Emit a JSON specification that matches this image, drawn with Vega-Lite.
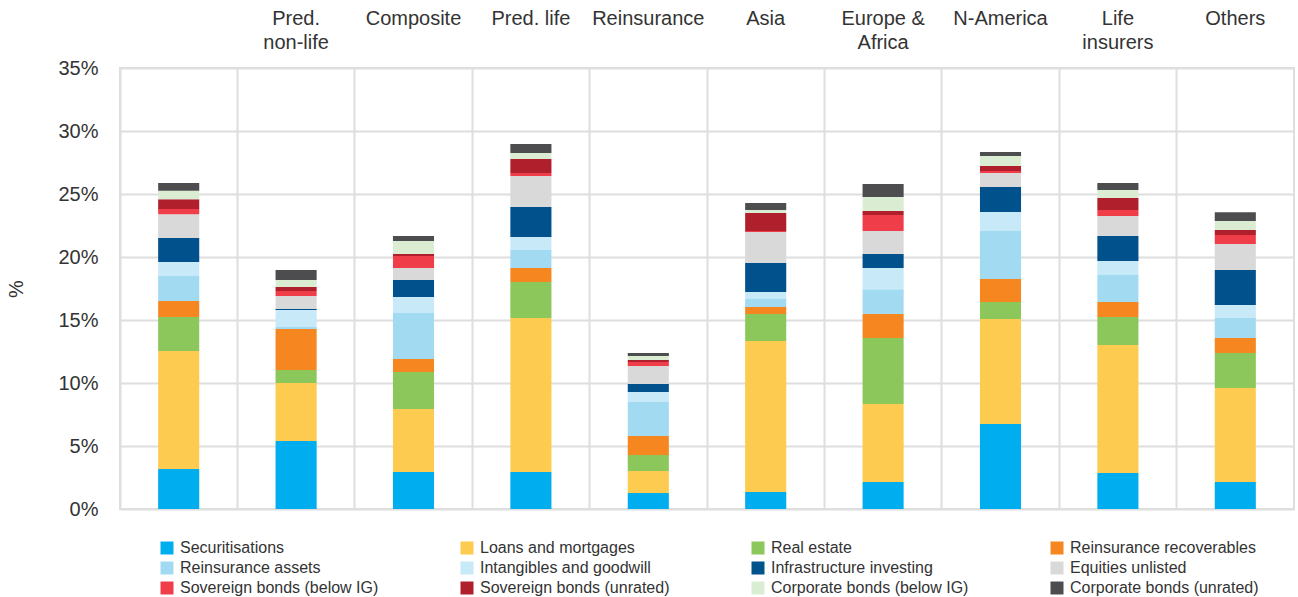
{
  "$schema": "https://vega.github.io/schema/vega-lite/v6.json",
  "autosize": {"type": "none"},
  "padding": {"left": 120, "top": 68, "right": 4, "bottom": 88},
  "width": 1174,
  "height": 441,
  "background": "white",
  "config": {
    "view": {"stroke": "#dedede", "strokeWidth": 2},
    "font": "Liberation Sans"
  },
  "datasets": {
    "cats": [
      {"c":"Securitisations","rank":1},{"c":"Loans and mortgages","rank":2},{"c":"Real estate","rank":3},{"c":"Reinsurance recoverables","rank":4},{"c":"Reinsurance assets","rank":5},{"c":"Intangibles and goodwill","rank":6},{"c":"Infrastructure investing","rank":7},{"c":"Equities unlisted","rank":8},{"c":"Sovereign bonds (below IG)","rank":9},{"c":"Sovereign bonds (unrated)","rank":10},{"c":"Corporate bonds (below IG)","rank":11},{"c":"Corporate bonds (unrated)","rank":12}
    ]
  },
  "data": {"values": [
    {"g":"","c":"Securitisations","v":3.17},{"g":"","c":"Loans and mortgages","v":9.37},{"g":"","c":"Real estate","v":2.70},{"g":"","c":"Reinsurance recoverables","v":1.27},{"g":"","c":"Reinsurance assets","v":1.98},{"g":"","c":"Intangibles and goodwill","v":1.11},{"g":"","c":"Infrastructure investing","v":1.90},{"g":"","c":"Equities unlisted","v":1.90},{"g":"","c":"Sovereign bonds (below IG)","v":0.40},{"g":"","c":"Sovereign bonds (unrated)","v":0.79},{"g":"","c":"Corporate bonds (below IG)","v":0.66},{"g":"","c":"Corporate bonds (unrated)","v":0.63},
    {"g":"Pred. non-life","c":"Securitisations","v":5.40},{"g":"Pred. non-life","c":"Loans and mortgages","v":4.60},{"g":"Pred. non-life","c":"Real estate","v":1.03},{"g":"Pred. non-life","c":"Reinsurance recoverables","v":3.25},{"g":"Pred. non-life","c":"Reinsurance assets","v":0.16},{"g":"Pred. non-life","c":"Intangibles and goodwill","v":1.35},{"g":"Pred. non-life","c":"Infrastructure investing","v":0.11},{"g":"Pred. non-life","c":"Equities unlisted","v":1.00},{"g":"Pred. non-life","c":"Sovereign bonds (below IG)","v":0.40},{"g":"Pred. non-life","c":"Sovereign bonds (unrated)","v":0.32},{"g":"Pred. non-life","c":"Corporate bonds (below IG)","v":0.56},{"g":"Pred. non-life","c":"Corporate bonds (unrated)","v":0.79},
    {"g":"Composite","c":"Securitisations","v":2.94},{"g":"Composite","c":"Loans and mortgages","v":5.00},{"g":"Composite","c":"Real estate","v":2.93},{"g":"Composite","c":"Reinsurance recoverables","v":1.03},{"g":"Composite","c":"Reinsurance assets","v":3.65},{"g":"Composite","c":"Intangibles and goodwill","v":1.27},{"g":"Composite","c":"Infrastructure investing","v":1.35},{"g":"Composite","c":"Equities unlisted","v":0.95},{"g":"Composite","c":"Sovereign bonds (below IG)","v":0.95},{"g":"Composite","c":"Sovereign bonds (unrated)","v":0.16},{"g":"Composite","c":"Corporate bonds (below IG)","v":1.03},{"g":"Composite","c":"Corporate bonds (unrated)","v":0.40},
    {"g":"Pred. life","c":"Securitisations","v":2.94},{"g":"Pred. life","c":"Loans and mortgages","v":12.22},{"g":"Pred. life","c":"Real estate","v":2.86},{"g":"Pred. life","c":"Reinsurance recoverables","v":1.11},{"g":"Pred. life","c":"Reinsurance assets","v":1.43},{"g":"Pred. life","c":"Intangibles and goodwill","v":1.03},{"g":"Pred. life","c":"Infrastructure investing","v":2.38},{"g":"Pred. life","c":"Equities unlisted","v":2.46},{"g":"Pred. life","c":"Sovereign bonds (below IG)","v":0.24},{"g":"Pred. life","c":"Sovereign bonds (unrated)","v":1.11},{"g":"Pred. life","c":"Corporate bonds (below IG)","v":0.48},{"g":"Pred. life","c":"Corporate bonds (unrated)","v":0.71},
    {"g":"Reinsurance","c":"Securitisations","v":1.27},{"g":"Reinsurance","c":"Loans and mortgages","v":1.75},{"g":"Reinsurance","c":"Real estate","v":1.27},{"g":"Reinsurance","c":"Reinsurance recoverables","v":1.51},{"g":"Reinsurance","c":"Reinsurance assets","v":2.70},{"g":"Reinsurance","c":"Intangibles and goodwill","v":0.79},{"g":"Reinsurance","c":"Infrastructure investing","v":0.63},{"g":"Reinsurance","c":"Equities unlisted","v":1.43},{"g":"Reinsurance","c":"Sovereign bonds (below IG)","v":0.32},{"g":"Reinsurance","c":"Sovereign bonds (unrated)","v":0.16},{"g":"Reinsurance","c":"Corporate bonds (below IG)","v":0.32},{"g":"Reinsurance","c":"Corporate bonds (unrated)","v":0.24},
    {"g":"Asia","c":"Securitisations","v":1.35},{"g":"Asia","c":"Loans and mortgages","v":11.98},{"g":"Asia","c":"Real estate","v":2.14},{"g":"Asia","c":"Reinsurance recoverables","v":0.56},{"g":"Asia","c":"Reinsurance assets","v":0.63},{"g":"Asia","c":"Intangibles and goodwill","v":0.56},{"g":"Asia","c":"Infrastructure investing","v":2.30},{"g":"Asia","c":"Equities unlisted","v":2.46},{"g":"Asia","c":"Sovereign bonds (below IG)","v":0.08},{"g":"Asia","c":"Sovereign bonds (unrated)","v":1.43},{"g":"Asia","c":"Corporate bonds (below IG)","v":0.24},{"g":"Asia","c":"Corporate bonds (unrated)","v":0.56},
    {"g":"Europe & Africa","c":"Securitisations","v":2.14},{"g":"Europe & Africa","c":"Loans and mortgages","v":6.19},{"g":"Europe & Africa","c":"Real estate","v":5.24},{"g":"Europe & Africa","c":"Reinsurance recoverables","v":1.90},{"g":"Europe & Africa","c":"Reinsurance assets","v":1.98},{"g":"Europe & Africa","c":"Intangibles and goodwill","v":1.67},{"g":"Europe & Africa","c":"Infrastructure investing","v":1.11},{"g":"Europe & Africa","c":"Equities unlisted","v":1.83},{"g":"Europe & Africa","c":"Sovereign bonds (below IG)","v":1.27},{"g":"Europe & Africa","c":"Sovereign bonds (unrated)","v":0.32},{"g":"Europe & Africa","c":"Corporate bonds (below IG)","v":1.11},{"g":"Europe & Africa","c":"Corporate bonds (unrated)","v":1.03},
    {"g":"N-America","c":"Securitisations","v":6.75},{"g":"N-America","c":"Loans and mortgages","v":8.33},{"g":"N-America","c":"Real estate","v":1.35},{"g":"N-America","c":"Reinsurance recoverables","v":1.83},{"g":"N-America","c":"Reinsurance assets","v":3.81},{"g":"N-America","c":"Intangibles and goodwill","v":1.51},{"g":"N-America","c":"Infrastructure investing","v":1.98},{"g":"N-America","c":"Equities unlisted","v":1.11},{"g":"N-America","c":"Sovereign bonds (below IG)","v":0.16},{"g":"N-America","c":"Sovereign bonds (unrated)","v":0.40},{"g":"N-America","c":"Corporate bonds (below IG)","v":0.79},{"g":"N-America","c":"Corporate bonds (unrated)","v":0.32},
    {"g":"Life insurers","c":"Securitisations","v":2.86},{"g":"Life insurers","c":"Loans and mortgages","v":10.16},{"g":"Life insurers","c":"Real estate","v":2.22},{"g":"Life insurers","c":"Reinsurance recoverables","v":1.19},{"g":"Life insurers","c":"Reinsurance assets","v":2.14},{"g":"Life insurers","c":"Intangibles and goodwill","v":1.11},{"g":"Life insurers","c":"Infrastructure investing","v":1.98},{"g":"Life insurers","c":"Equities unlisted","v":1.59},{"g":"Life insurers","c":"Sovereign bonds (below IG)","v":0.48},{"g":"Life insurers","c":"Sovereign bonds (unrated)","v":0.95},{"g":"Life insurers","c":"Corporate bonds (below IG)","v":0.63},{"g":"Life insurers","c":"Corporate bonds (unrated)","v":0.56},
    {"g":"Others","c":"Securitisations","v":2.14},{"g":"Others","c":"Loans and mortgages","v":7.46},{"g":"Others","c":"Real estate","v":2.78},{"g":"Others","c":"Reinsurance recoverables","v":1.19},{"g":"Others","c":"Reinsurance assets","v":1.59},{"g":"Others","c":"Intangibles and goodwill","v":1.03},{"g":"Others","c":"Infrastructure investing","v":2.78},{"g":"Others","c":"Equities unlisted","v":2.06},{"g":"Others","c":"Sovereign bonds (below IG)","v":0.71},{"g":"Others","c":"Sovereign bonds (unrated)","v":0.40},{"g":"Others","c":"Corporate bonds (below IG)","v":0.71},{"g":"Others","c":"Corporate bonds (unrated)","v":0.71}
  ]},
  "transform": [
    {"lookup": "c", "from": {"data": {"name": "cats"}, "key": "c", "fields": ["rank"]}}
  ],
  "mark": {"type": "bar", "width": {"band": 0.35}},
  "encoding": {
    "x": {
      "field": "g", "type": "nominal",
      "sort": ["", "Pred. non-life", "Composite", "Pred. life", "Reinsurance", "Asia", "Europe & Africa", "N-America", "Life insurers", "Others"],
      "scale": {"paddingInner": 0, "paddingOuter": 0},
      "axis": {
        "orient": "top", "title": null, "domain": false, "ticks": false, "tickSize": 0,
        "labelAngle": 0, "labelFontSize": 20, "labelColor": "#333333",
        "labelBaseline": "top", "labelPadding": 60, "labelLineHeight": 24,
        "labelExpr": "datum.label == 'Pred. non-life' ? ['Pred.','non-life'] : datum.label == 'Europe & Africa' ? ['Europe &','Africa'] : datum.label == 'Life insurers' ? ['Life','insurers'] : datum.label",
        "grid": true, "gridColor": "#dedede", "gridWidth": 2, "bandPosition": 0
      }
    },
    "y": {
      "field": "v", "type": "quantitative", "stack": "zero",
      "scale": {"domain": [0, 35], "nice": false},
      "axis": {
        "title": "%", "titleFontSize": 20, "titleFontWeight": "normal", "titleColor": "#333333", "titlePadding": 31,
        "values": [0, 5, 10, 15, 20, 25, 30, 35],
        "labelExpr": "datum.value + '%'", "labelFontSize": 20, "labelColor": "#333333", "labelPadding": 22,
        "domain": false, "ticks": false,
        "grid": true, "gridColor": "#dedede", "gridWidth": 2
      }
    },
    "order": {"field": "rank", "type": "quantitative", "sort": "ascending"},
    "color": {
      "field": "c", "type": "nominal",
      "sort": ["Securitisations", "Loans and mortgages", "Real estate", "Reinsurance recoverables", "Reinsurance assets", "Intangibles and goodwill", "Infrastructure investing", "Equities unlisted", "Sovereign bonds (below IG)", "Sovereign bonds (unrated)", "Corporate bonds (below IG)", "Corporate bonds (unrated)"],
      "scale": {
        "domain": ["Securitisations", "Loans and mortgages", "Real estate", "Reinsurance recoverables", "Reinsurance assets", "Intangibles and goodwill", "Infrastructure investing", "Equities unlisted", "Sovereign bonds (below IG)", "Sovereign bonds (unrated)", "Corporate bonds (below IG)", "Corporate bonds (unrated)"],
        "range": ["#00aeef", "#fdcb4f", "#8bc75a", "#f58620", "#a2daf2", "#c8e9f8", "#00518c", "#d9d9d9", "#ef3e4a", "#b01f2c", "#daedd3", "#4d4d4f"]
      },
      "legend": {
        "title": null, "orient": "none", "legendX": 39, "legendY": 472,
        "direction": "horizontal", "columns": 4, "columnPadding": 80, "rowPadding": 4,
        "symbolType": "square", "symbolSize": 169, "symbolStrokeWidth": 0, "symbolOpacity": 1,
        "labelFontSize": 16, "labelColor": "#333333", "labelOffset": 5, "labelLimit": 400, "padding": 0
      }
    }
  }
}
